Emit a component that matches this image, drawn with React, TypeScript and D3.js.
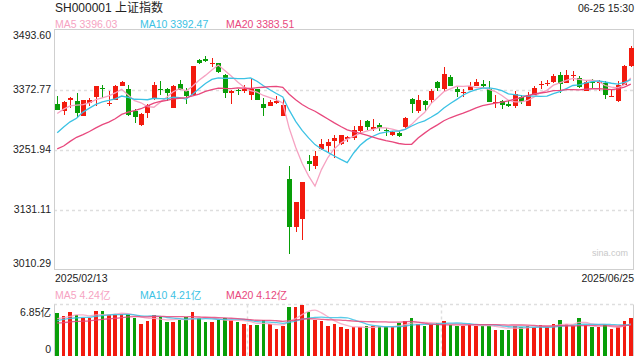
import React from 'react';
import * as d3 from 'd3';

const title = 'SH000001 上证指数';
const timeLabel = '06-25 15:30';
const xLabels = ['2025/02/13', '2025/06/25'];
const yTicks = [3493.6, 3372.77, 3251.94, 3131.11, 3010.29];
const volTicks = [6.85, 0];
const volUnit = '亿';

const opens = [
  3342.6, 3329.1, 3352.6, 3349.2, 3320.4, 3346.0, 3357.3, 3374.8, 3345.0, 3352.6,
  3379.4, 3374.2, 3329.1, 3300.9, 3325.8, 3354.0, 3374.0, 3372.8, 3335.9, 3384.8,
  3369.3, 3362.7, 3431.8, 3434.2, 3425.1, 3426.1, 3402.9, 3366.7, 3371.0, 3370.7,
  3362.7, 3372.8, 3342.6, 3340.5, 3344.6, 3320.4, 3193.5, 3095.5, 3111.0, 3228.4,
  3219.7, 3253.3, 3258.6, 3268.6, 3264.0, 3273.0, 3275.5, 3288.8, 3308.9, 3292.8,
  3300.3, 3292.2, 3282.1, 3284.2, 3296.8, 3354.0, 3329.1, 3350.6, 3352.6, 3387.5,
  3374.2, 3398.3, 3374.2, 3366.7, 3371.3, 3380.8, 3384.8, 3374.2, 3345.5, 3349.2,
  3343.6, 3340.5, 3358.1, 3340.5, 3362.7, 3381.8, 3384.5, 3388.3, 3402.9, 3386.3,
  3402.0, 3396.3, 3369.3, 3388.5, 3386.9, 3386.3, 3358.1, 3349.2, 3382.8, 3419.7,
];
const highs = [
  3359.3, 3349.2, 3358.0, 3366.1, 3352.0, 3356.0, 3380.8, 3382.8, 3369.3, 3381.0,
  3389.0, 3382.8, 3332.5, 3325.0, 3344.0, 3387.5, 3389.5, 3376.2, 3381.0, 3391.5,
  3376.2, 3421.1, 3433.2, 3439.5, 3437.2, 3427.1, 3403.0, 3372.0, 3372.8, 3382.8,
  3394.3, 3373.5, 3356.0, 3352.6, 3359.3, 3356.0, 3218.3, 3146.5, 3187.5, 3239.9,
  3248.5, 3273.5, 3272.1, 3282.1, 3281.0, 3280.1, 3298.9, 3312.3, 3312.3, 3313.8,
  3305.7, 3295.6, 3288.8, 3288.8, 3317.0, 3356.0, 3360.7, 3352.6, 3372.8, 3389.5,
  3418.5, 3402.9, 3379.4, 3374.2, 3387.5, 3394.3, 3390.9, 3389.5, 3362.7, 3352.6,
  3349.2, 3369.3, 3362.7, 3367.3, 3379.4, 3389.5, 3392.9, 3404.4, 3408.4, 3413.0,
  3409.6, 3400.9, 3391.5, 3394.3, 3391.5, 3389.5, 3372.8, 3389.5, 3423.1, 3460.0,
];
const lows = [
  3330.5, 3322.4, 3335.9, 3315.8, 3319.4, 3339.1, 3339.1, 3356.0, 3339.1, 3351.2,
  3379.0, 3319.0, 3305.7, 3298.9, 3315.8, 3352.6, 3362.7, 3349.2, 3335.0, 3371.0,
  3342.6, 3362.0, 3425.0, 3429.0, 3417.1, 3407.0, 3356.0, 3342.6, 3362.7, 3366.1,
  3351.2, 3351.0, 3319.0, 3340.0, 3344.0, 3320.0, 3040.5, 3085.4, 3070.7, 3208.2,
  3211.7, 3251.9, 3245.3, 3235.2, 3262.0, 3266.6, 3270.7, 3285.6, 3292.2, 3288.8,
  3288.8, 3280.1, 3278.7, 3278.0, 3292.2, 3325.8, 3325.8, 3329.1, 3346.0, 3369.3,
  3369.3, 3379.4, 3358.1, 3358.1, 3371.0, 3380.5, 3376.2, 3348.0, 3335.9, 3332.5,
  3337.9, 3335.9, 3342.6, 3340.0, 3360.7, 3372.8, 3379.4, 3386.3, 3366.1, 3386.0,
  3389.5, 3376.2, 3369.0, 3376.2, 3369.3, 3354.0, 3358.0, 3347.2, 3382.0, 3418.5,
];
const closes = [
  3332.48, 3346.72, 3355.83, 3324.49, 3351.54, 3350.78, 3379.11, 3373.03, 3346.04, 3380.21,
  3388.06, 3320.90, 3316.93, 3324.21, 3341.96, 3381.10, 3372.55, 3366.16, 3379.83, 3371.92,
  3358.73, 3419.56, 3426.13, 3429.76, 3426.43, 3408.95, 3364.83, 3370.03, 3369.98, 3373.75,
  3373.03, 3351.31, 3335.75, 3348.44, 3350.13, 3342.01, 3096.58, 3145.55, 3186.81, 3223.64,
  3238.23, 3262.81, 3267.66, 3276.00, 3280.34, 3276.73, 3291.43, 3299.76, 3296.36, 3297.29,
  3295.06, 3288.41, 3286.65, 3279.03, 3316.11, 3342.67, 3352.00, 3342.00, 3369.24, 3374.87,
  3403.95, 3380.82, 3367.46, 3367.58, 3380.48, 3387.57, 3380.19, 3348.37, 3346.84, 3340.69,
  3339.93, 3363.45, 3347.49, 3361.98, 3376.20, 3384.10, 3385.36, 3399.77, 3384.82, 3402.32,
  3402.66, 3377.00, 3388.73, 3387.40, 3388.81, 3362.11, 3359.90, 3381.58, 3420.57, 3455.97,
];
const volumes = [
  5.72, 5.28, 5.85, 5.49, 5.05, 5.03, 5.95, 5.93, 5.41, 5.49,
  5.65, 5.62, 5.05, 4.26, 4.62, 5.41, 5.19, 4.52, 4.50, 4.85,
  5.15, 5.85, 5.01, 4.52, 4.50, 4.79, 5.12, 4.85, 4.50, 4.23,
  4.10, 4.08, 4.76, 4.23, 3.63, 3.99, 6.52, 6.50, 6.85, 5.85,
  4.81, 4.68, 3.95, 4.26, 3.82, 3.59, 3.80, 3.82, 3.95, 3.93,
  3.95, 3.94, 3.82, 4.39, 4.70, 5.05, 4.26, 3.95, 4.26, 4.39,
  4.70, 4.16, 4.03, 4.02, 4.16, 4.03, 4.01, 4.03, 3.50, 3.50,
  3.49, 4.03, 3.82, 4.03, 3.82, 4.08, 3.82, 4.20, 4.75, 4.26,
  4.05, 5.05, 4.16, 3.82, 3.82, 4.13, 3.57, 3.82, 4.66, 5.02,
];
// sessions before the first visible day (feed the moving averages only)
const priorCloses = [
  3230.17, 3168.52, 3160.76, 3240.94, 3227.12, 3236.03, 3241.82, 3244.38, 3242.62, 3213.62,
  3230.16, 3252.63, 3250.60, 3229.49, 3270.66, 3303.67, 3322.17, 3318.06, 3346.39,
];
const priorVolumes = [
  4.3, 3.9, 4.2, 4.5, 4.0, 3.9, 4.1, 3.8, 4.2, 3.9,
  3.6, 4.4, 4.9, 4.5, 4.8, 4.6, 5.0, 4.5, 4.98,
];
const maPeriods = [5, 10, 20];
const maColors = ['#f6a3c2', '#3cc2e4', '#e8487d'];
const UP = '#f21a0e';
const DOWN = '#089e08';
const FONT = '"Liberation Sans", Arial, "Noto Sans CJK SC", sans-serif';

function movingAverage(prior: number[], values: number[], n: number): number[] {
  const all = prior.concat(values);
  const off = prior.length;
  return values.map((_, i) => d3.mean(all.slice(off + i - n + 1, off + i + 1)) as number);
}

export default function App() {
  const W = 640, H = 360;
  const left = 54, right = 634;
  const mainTop = 29.5, mainBottom = 269.5;
  const volTop = 304.5, volBottom = 356;
  const legendX = [55, 140, 226];

  const idx = d3.range(closes.length);
  const x = d3.scaleBand<number>().domain(idx).range([left, right]).paddingInner(0.22).paddingOuter(0.11);
  const cx = (i: number) => (x(i) as number) + x.bandwidth() / 2;
  const y = d3.scaleLinear().domain([yTicks[yTicks.length - 1], yTicks[0]]).range([mainBottom, mainTop]);
  const yv = d3.scaleLinear().domain([volTicks[1], volTicks[0]]).range([volBottom, volTop]);

  const priceMA = maPeriods.map((n) => movingAverage(priorCloses, closes, n));
  const volMA = maPeriods.map((n) => movingAverage(priorVolumes, volumes, n));

  const line = d3.line<number>().x((_, i) => cx(i)).y((d) => y(d));
  const vline = d3.line<number>().x((_, i) => cx(i)).y((d) => yv(d)).curve(d3.curveMonotoneX);

  const bodyW = Math.round(x.bandwidth());
  const volW = 3.6;
  const grid = '#dedede';

  return (
    <svg width={W} height={H} style={{ position: 'absolute', left: 0, top: 0, background: '#fff' }} fontFamily={FONT}>
      <rect x={0} y={0} width={W} height={H} fill="#fff" />
      {/* header */}
      <text x={55} y={8} fontSize={12} fill="#222" dominantBaseline="central">{title}</text>
      <text x={right} y={8} fontSize={10.5} fill="#222" textAnchor="end" dominantBaseline="central">{timeLabel}</text>
      {maPeriods.map((n, k) => (
        <text key={'lg' + n} x={legendX[k]} y={24} fontSize={10.5} fill={maColors[k]} dominantBaseline="central">
          {`MA${n} ${priceMA[k][closes.length - 1].toFixed(2)}`}
        </text>
      ))}

      {/* main grid */}
      {yTicks.slice(1, -1).map((t) => (
        <line key={'g' + t} x1={left} x2={right} y1={Math.round(y(t)) + 0.5} y2={Math.round(y(t)) + 0.5}
          stroke={grid} strokeWidth={1.5} strokeDasharray="3,3" />
      ))}
      <rect x={left + 0.5} y={mainTop} width={right - left - 1} height={mainBottom - mainTop} fill="none" stroke="#cfcfcf" />
      {yTicks.map((t, k) => (
        <text key={'yt' + t} x={51} y={k === 0 ? y(t) + 5.5 : k === yTicks.length - 1 ? y(t) - 7 : y(t) - 0.5}
          fontSize={10.5} fill="#222" textAnchor="end" dominantBaseline="central">{t.toFixed(2)}</text>
      ))}
      <text x={628} y={253} fontSize={9} fill="#c8c8c8" textAnchor="end" dominantBaseline="central">sina.com</text>

      {/* candles */}
      <g shapeRendering="crispEdges">
        {idx.map((i) => {
          const up = closes[i] >= opens[i];
          const c = up ? UP : DOWN;
          const xc = Math.round(cx(i));
          const top = y(Math.max(opens[i], closes[i]));
          const bot = y(Math.min(opens[i], closes[i]));
          return (
            <g key={'c' + i}>
              <line x1={xc + 0.5} x2={xc + 0.5} y1={y(highs[i])} y2={y(lows[i])} stroke={c} strokeWidth={1} />
              <rect x={xc - Math.floor(bodyW / 2)} y={top} width={bodyW} height={Math.max(1, bot - top)} fill={c} />
            </g>
          );
        })}
      </g>
      {priceMA.map((arr, k) => (
        <path key={'ma' + k} d={line(arr) as string} fill="none" stroke={maColors[k]} strokeWidth={1.3} />
      ))}

      {/* date labels */}
      <text x={55} y={278} fontSize={10.5} fill="#222" dominantBaseline="central">{xLabels[0]}</text>
      <text x={right} y={278} fontSize={10.5} fill="#222" textAnchor="end" dominantBaseline="central">{xLabels[1]}</text>

      {/* volume panel */}
      {maPeriods.map((n, k) => (
        <text key={'vl' + n} x={legendX[k]} y={295} fontSize={10.5} fill={maColors[k]} dominantBaseline="central">
          {`MA${n} ${volMA[k][volumes.length - 1].toFixed(2)}${volUnit}`}
        </text>
      ))}
      <line x1={left} x2={right} y1={volTop} y2={volTop} stroke={grid} strokeWidth={1.5} strokeDasharray="3,3" />
      {[1, 2].map((k) => {
        const xx = Math.round(left + ((right - left) * k) / 3) + 0.5;
        return <line key={'vg' + k} x1={xx} x2={xx} y1={volTop} y2={volBottom} stroke={grid} strokeWidth={1.5} strokeDasharray="3,3" />;
      })}
      <line x1={left + 0.5} x2={left + 0.5} y1={volTop} y2={volBottom} stroke="#cfcfcf" />
      <line x1={right - 0.5} x2={right - 0.5} y1={volTop} y2={volBottom} stroke="#cfcfcf" />
      <text x={51} y={311.5} fontSize={10.5} fill="#222" textAnchor="end" dominantBaseline="central">{`${volTicks[0].toFixed(2)}${volUnit}`}</text>
      <text x={51} y={volBottom - 7} fontSize={10.5} fill="#222" textAnchor="end" dominantBaseline="central">{`${volTicks[1]}`}</text>
      <g shapeRendering="crispEdges">
        {idx.map((i) => (
          <rect key={'v' + i} x={cx(i) - volW / 2} y={yv(volumes[i])} width={volW} height={volBottom - yv(volumes[i])}
            fill={closes[i] >= opens[i] ? UP : DOWN} />
        ))}
      </g>
      {volMA.map((arr, k) => (
        <path key={'vma' + k} d={vline(arr) as string} fill="none" stroke={maColors[k]} strokeWidth={1.3} opacity={0.85} />
      ))}
    </svg>
  );
}
